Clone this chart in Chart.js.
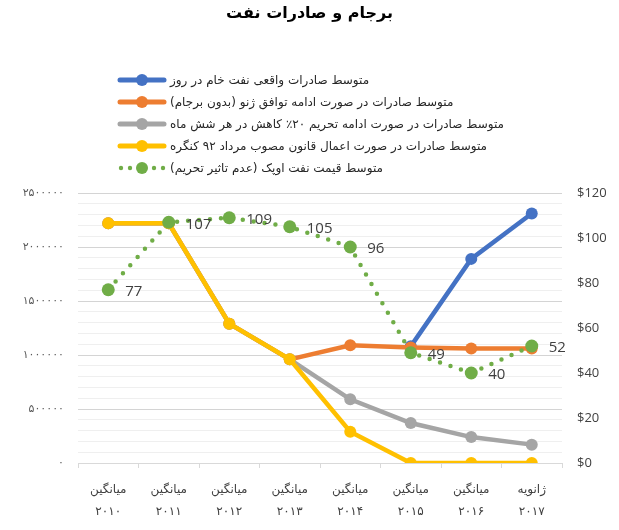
<!DOCTYPE html>
<html lang="fa">
<head>
<meta charset="utf-8">
<script src="https://cdn.jsdelivr.net/npm/chart.js@4.4.1/dist/chart.umd.min.js"></script>
<style>
    body { margin: 0; background: #fff; }
    #wrap { position: relative; width: 619px; height: 530px; }
    #title { position: absolute; top: 0; left: 0; width: 619px; text-align: center; font: bold 16px "DejaVu Sans"; line-height: 26px; color: #000; }
    #legend { position: absolute; top: 69px; left: 117px; font: 12px "DejaVu Sans"; color: #262626; }
    .row { display: flex; align-items: center; height: 22px; }
    .row svg { margin-right: 3px; flex: none; }
    .row span { direction: rtl; unicode-bidi: embed; }
</style>
</head>
<body>
<div id="wrap">
    <canvas id="myChart" width="619" height="530"></canvas>
    <div id="title">برجام و صادرات نفت</div>
    <div id="legend"></div>
</div>
<script>
// categories
const periods = ['میانگین', 'میانگین', 'میانگین', 'میانگین', 'میانگین', 'میانگین', 'میانگین', 'ژانویه'];
const years = ['۲۰۱۰', '۲۰۱۱', '۲۰۱۲', '۲۰۱۳', '۲۰۱۴', '۲۰۱۵', '۲۰۱۶', '۲۰۱۷'];

// series (barrels per day)
const actualExports = [null, null, null, null, null, 1080000, 1890000, 2310000];
const genevaDeal = [2220000, 2220000, 1290000, 960000, 1090000, 1070000, 1060000, 1060000];
const sanctions20 = [2220000, 2220000, 1290000, 960000, 590000, 370000, 240000, 170000];
const congressLaw = [2220000, 2220000, 1290000, 960000, 290000, 0, 0, 0];
// OPEC price ($)
const opecPrice = [77, 107, 109, 105, 96, 49, 40, 52];

const seriesNames = [
    'متوسط صادرات واقعی نفت خام  در روز',
    'متوسط صادرات در صورت ادامه توافق ژنو (بدون برجام)',
    'متوسط صادرات در صورت ادامه تحریم ۲۰٪ کاهش در هر شش ماه',
    'متوسط صادرات در صورت اعمال قانون مصوب مرداد ۹۲ کنگره',
    'متوسط قیمت نفت  اوپک (عدم تاثیر تحریم)'
];
const seriesColors = ['#4472C4', '#ED7D31', '#A5A5A5', '#FFC000', '#70AD47'];

function toFa(n) {
    return String(n).replace(/\d/g, d => '۰۱۲۳۴۵۶۷۸۹'[d]);
}

document.addEventListener("DOMContentLoaded", function () {
    const ctx = document.getElementById('myChart').getContext('2d');

    // html legend: marker on the left, rtl text after it
    const legend = document.getElementById('legend');
    seriesNames.forEach((name, i) => {
        const c = seriesColors[i];
        let mark;
        if (i === 4) {
            mark = `<svg width="50" height="14"><g fill="${c}"><circle cx="4" cy="7" r="2.2"/><circle cx="13" cy="7" r="2.2"/><circle cx="25" cy="7" r="6"/><circle cx="37" cy="7" r="2.2"/><circle cx="46" cy="7" r="2.2"/></g></svg>`;
        } else {
            mark = `<svg width="50" height="14"><line x1="3" y1="7" x2="47" y2="7" stroke="${c}" stroke-width="5" stroke-linecap="round"/><circle cx="25" cy="7" r="6" fill="${c}"/></svg>`;
        }
        const row = document.createElement('div');
        row.className = 'row';
        row.innerHTML = mark + '<span>' + name + '</span>';
        legend.appendChild(row);
    });

    const priceLabels = {
        id: 'priceLabels',
        afterDatasetsDraw(chart) {
            const meta = chart.getDatasetMeta(4);
            const c = chart.ctx;
            c.save();
            c.font = '15px "Open Sans"';
            c.fillStyle = '#404040';
            c.textAlign = 'left';
            c.textBaseline = 'middle';
            meta.data.forEach((pt, i) => {
                c.fillText(opecPrice[i], pt.x + 17, pt.y + 2);
            });
            c.restore();
        }
    };

    function lineSet(i, data, order) {
        return {
            label: seriesNames[i],
            data: data,
            borderColor: seriesColors[i],
            backgroundColor: seriesColors[i],
            borderWidth: 4.5,
            pointRadius: 6,
            pointBorderWidth: 0,
            pointHoverRadius: 6,
            yAxisID: 'y',
            order: order
        };
    }

    new Chart(ctx, {
        type: 'line',
        data: {
            labels: periods.map((p, i) => [p, years[i]]),
            datasets: [
                lineSet(0, actualExports, 5),
                lineSet(1, genevaDeal, 4),
                lineSet(2, sanctions20, 3),
                lineSet(3, congressLaw, 2),
                {
                    label: seriesNames[4],
                    data: opecPrice,
                    borderColor: seriesColors[4],
                    backgroundColor: seriesColors[4],
                    borderWidth: 4.5,
                    borderDash: [0, 11],
                    borderCapStyle: 'round',
                    pointRadius: 6.5,
                    pointBorderWidth: 0,
                    yAxisID: 'y1',
                    order: 1
                }
            ]
        },
        options: {
            responsive: false,
            animation: false,
            layout: { padding: { top: 193, left: 0, right: 0, bottom: 0 } },
            plugins: {
                legend: { display: false },
                tooltip: { enabled: false }
            },
            scales: {
                x: {
                    offset: true,
                    grid: { drawOnChartArea: false, tickLength: 5, color: '#d9d9d9', offset: true },
                    border: { color: '#d9d9d9' },
                    ticks: {
                        color: '#404040',
                        font: { family: 'DejaVu Sans', size: 12, lineHeight: '22px' },
                        padding: 11,
                        maxRotation: 0,
                        autoSkip: false
                    },
                    afterFit: s => { s.height = 67; }
                },
                y: {
                    position: 'left',
                    min: 0,
                    max: 2500000,
                    ticks: {
                        stepSize: 100000,
                        autoSkip: false,
                        padding: 14,
                        color: '#595959',
                        font: { family: 'DejaVu Sans', size: 11 },
                        callback: v => v % 500000 === 0 ? toFa(v) : ''
                    },
                    grid: {
                        drawTicks: false,
                        color: c => c.tick && c.tick.value % 500000 === 0 ? '#d4d4d4' : '#efefef'
                    },
                    border: { display: false },
                    afterFit: s => { s.width = 78; }
                },
                y1: {
                    position: 'right',
                    min: 0,
                    max: 120,
                    ticks: {
                        stepSize: 20,
                        padding: 15,
                        color: '#404040',
                        font: { family: 'Open Sans', size: 13 },
                        callback: v => '$' + v
                    },
                    grid: { drawOnChartArea: false, drawTicks: false },
                    border: { display: false },
                    afterFit: s => { s.width = 57; }
                }
            }
        },
        plugins: [priceLabels]
    });
});
</script>
</body>
</html>
